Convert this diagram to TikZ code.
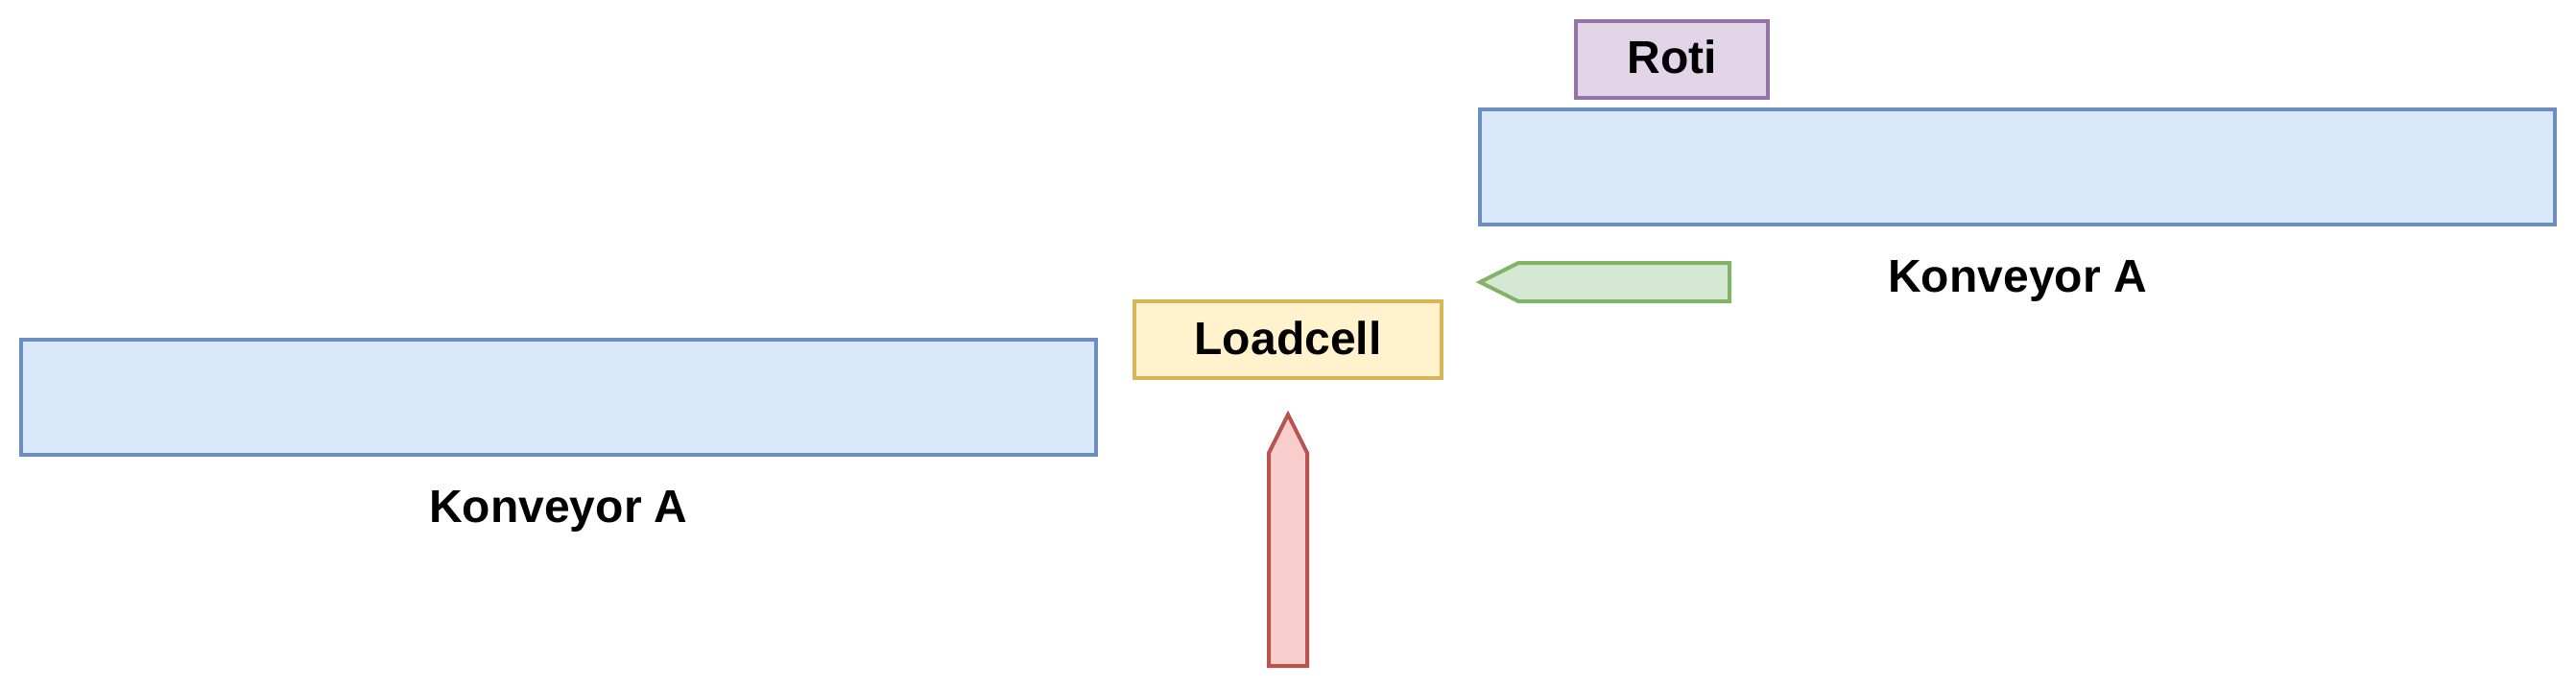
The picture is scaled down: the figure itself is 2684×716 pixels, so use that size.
\documentclass[tikz,border=0pt]{standalone}
\usepackage{fontspec}
\setmainfont{Liberation Sans}
\definecolor{blueF}{HTML}{DAE8FC}\definecolor{blueS}{HTML}{6C8EBF}
\definecolor{yelF}{HTML}{FFF2CC}\definecolor{yelS}{HTML}{D6B656}
\definecolor{redF}{HTML}{F8CECC}\definecolor{redS}{HTML}{B85450}
\definecolor{grnF}{HTML}{D5E8D4}\definecolor{grnS}{HTML}{82B366}
\definecolor{purF}{HTML}{E1D5E7}\definecolor{purS}{HTML}{9673A6}
\tikzset{
  txt/.style={font=\fontsize{48}{56}\selectfont\bfseries, inner sep=0pt},
  box/.style={draw, line width=4pt, inner sep=0pt, outer sep=0pt},
  conv/.style={box, fill=blueF, draw=blueS, minimum width=1120pt, minimum height=120pt},
}
\begin{document}
\begin{tikzpicture}[x=1pt,y=-1pt]
\useasboundingbox (0,0) rectangle (2684,716);
% conveyors
\node[conv] (c1) at (582,414) {};
\node[conv] (c2) at (2102,174) {};
\node[txt, anchor=base] (l1) at (582,544) {Konveyor A};
\node[txt, anchor=base] (l2) at (2102,304) {Konveyor A};
% loadcell
\node[box, fill=yelF, draw=yelS, minimum width=320pt, minimum height=80pt] (lc) at (1342,354) {};
\node[txt, anchor=base] (lct) at (1342,369) {Loadcell};
% roti
\node[box, fill=purF, draw=purS, minimum width=200pt, minimum height=80pt] (roti) at (1742,61.5) {};
\node[txt, anchor=base] (rotit) at (1742,76) {Roti};
% red arrow (up)
\draw[line width=4pt, fill=redF, draw=redS] (1322,694) -- (1322,472) -- (1342,432) -- (1362,472) -- (1362,694) -- cycle;
% green arrow (left)
\draw[line width=4pt, fill=grnF, draw=grnS] (1802,274) -- (1582,274) -- (1542,294) -- (1582,314) -- (1802,314) -- cycle;
\end{tikzpicture}
\end{document}
